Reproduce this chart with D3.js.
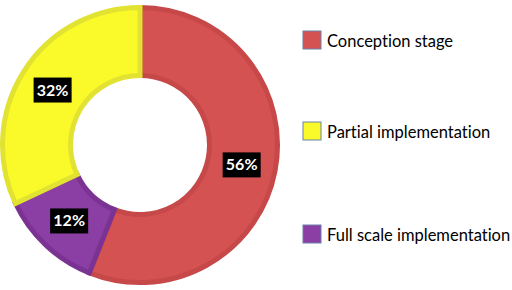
<!DOCTYPE html>
<html>
<head>
<meta charset="utf-8">
<script src="https://cdn.jsdelivr.net/npm/d3@7"></script>
<style>
  body { margin: 0; background: #fff; }
  text { font-family: Lato, "Open Sans", sans-serif; font-variant-ligatures: none; }
</style>
</head>
<body>
<div id="chart"></div>
<script>
// chart data
var categories = ["Conception stage", "Full scale implementation", "Partial implementation"];
var values = [56, 12, 32];
var fills = ["#d55252", "#8b3ea3", "#fafa2a"];
var strokes = ["#c64848", "#7b3393", "#e2e232"];

// legend order differs from slice order
var legendOrder = ["Conception stage", "Partial implementation", "Full scale implementation"];
var legendY = [31, 122, 225];

var width = 512, height = 290;

var svg = d3.select("#chart").append("svg")
    .attr("width", width)
    .attr("height", height);

var cx = 140, cy = 145,
    outerR = 140, innerR = 67;

var pie = d3.pie().sort(null).value(function(d){ return d; });
var arcs = pie(values);

var arc = d3.arc()
    .innerRadius(innerR + 2.5)
    .outerRadius(outerR - 2.5);

var g = svg.append("g")
    .attr("transform", "translate(" + cx + "," + cy + ")");

g.selectAll(".slice")
    .data(arcs)
    .enter().append("path")
    .attr("class", "slice")
    .attr("d", arc)
    .attr("fill", function(d, i){ return fills[i]; })
    .attr("stroke", function(d, i){ return strokes[i]; })
    .attr("stroke-width", 5)
    .attr("stroke-linejoin", "miter");

// labels on black boxes
var labels = g.selectAll(".lab")
    .data(arcs)
    .enter().append("g")
    .attr("class", "lab")
    .attr("transform", function(d){
        var c = arc.centroid(d);
        return "translate(" + c[0] + "," + c[1] + ")";
    });

labels.append("rect")
    .attr("x", -19).attr("y", -12)
    .attr("width", 38).attr("height", 25)
    .attr("fill", "#000");

labels.append("text")
    .attr("text-anchor", "middle")
    .attr("y", 6)
    .attr("fill", "#fff")
    .attr("font-weight", "bold")
    .attr("font-size", "16px")
    .text(function(d){ return d.data + "%"; });

// legend
var legend = svg.selectAll(".legend")
    .data(legendOrder)
    .enter().append("g")
    .attr("class", "legend")
    .attr("transform", function(d, i){ return "translate(303," + legendY[i] + ")"; });

legend.append("rect")
    .attr("width", 18).attr("height", 18)
    .attr("fill", function(d){ return fills[categories.indexOf(d)]; })
    .attr("stroke", "#6b80a8")
    .attr("stroke-width", 1);

legend.append("text")
    .attr("x", 24)
    .attr("y", 16)
    .attr("font-size", "16.5px")
    .attr("fill", "#000")
    .text(function(d){ return d; });
</script>
</body>
</html>
